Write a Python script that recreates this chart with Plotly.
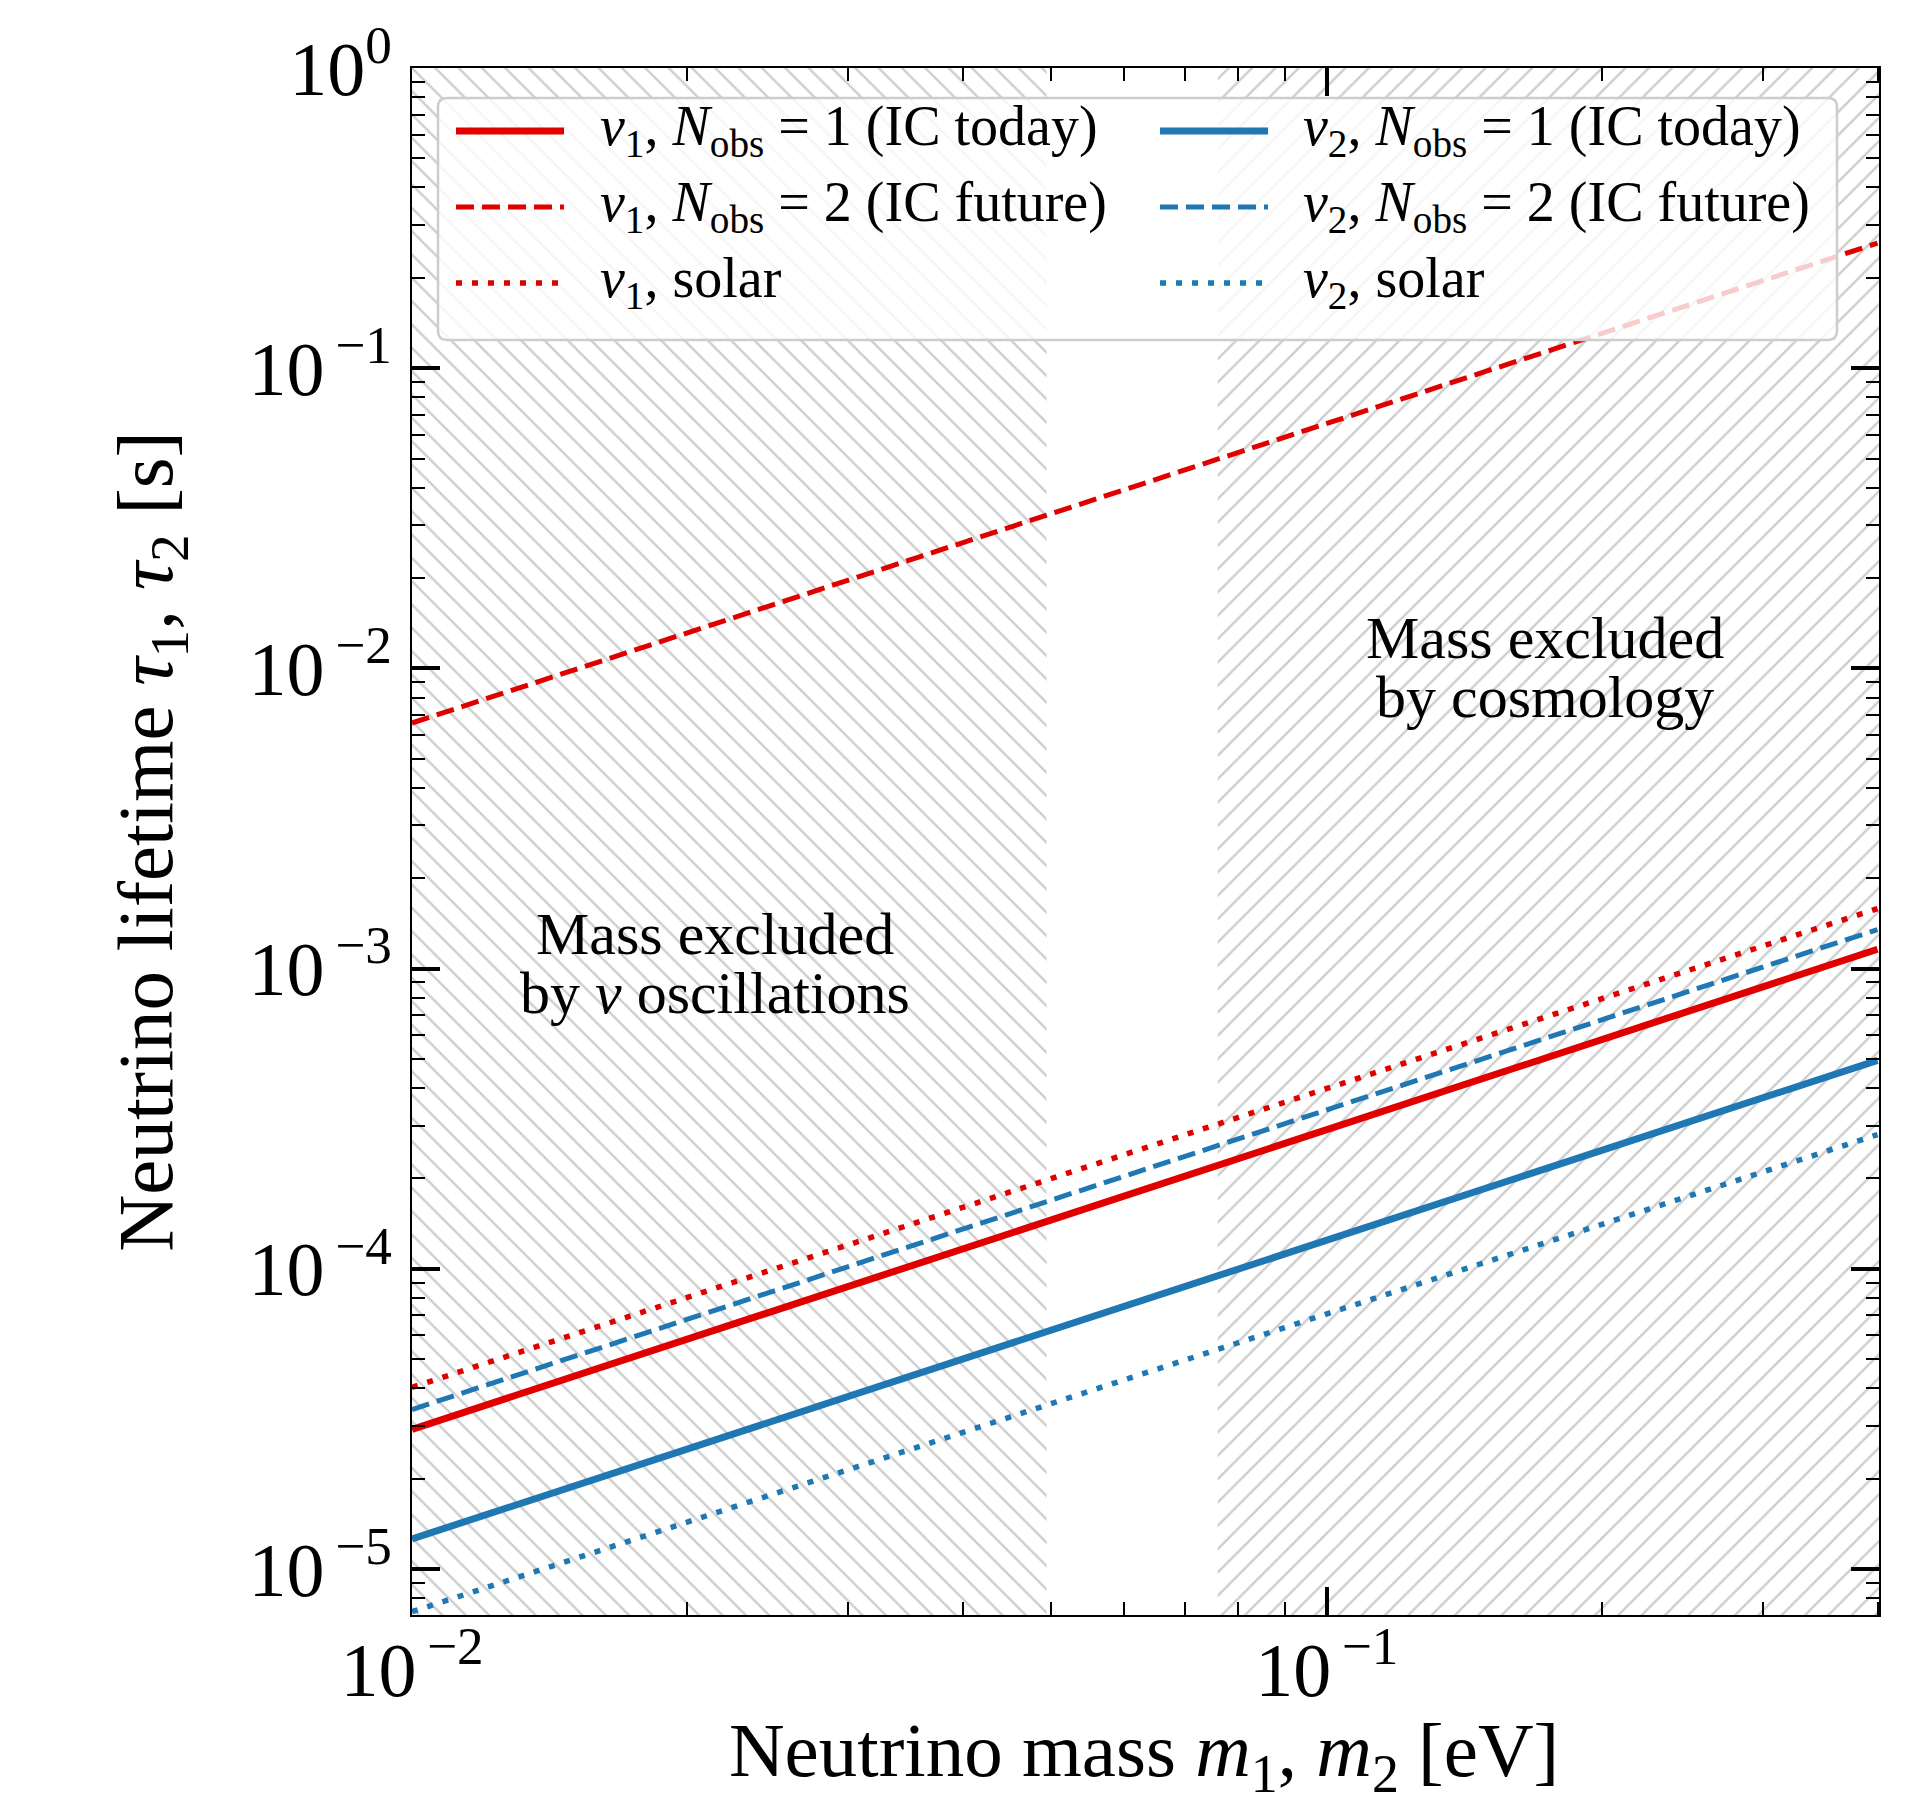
import numpy as np
import plotly.graph_objects as go

# ---------------- data ----------------
mass_ends = [0.01, 0.4]                      # eV
nu1_ic_today = [2.92e-5, 1.16e-3]           # s
nu1_ic_future = [6.58e-3, 0.261]
nu1_solar = [4.03e-5, 1.585e-3]
nu2_ic_today = [1.26e-5, 4.95e-4]
nu2_ic_future = [3.40e-5, 1.35e-3]
nu2_solar = [7.21e-6, 2.80e-4]

osc_excluded_mass = [0.01, 0.0494]
cosmo_excluded_mass = [0.076, 0.41]

x_tickvals = [1e-2, 1e-1]
x_ticktext = ["10<sup>\u2009−2</sup>", "10<sup>\u2009−1</sup>"]
y_tickvals = [1e-5, 1e-4, 1e-3, 1e-2, 1e-1, 1e0]
y_ticktext = ["10<sup>\u2009−5</sup>", "10<sup>\u2009−4</sup>", "10<sup>\u2009−3</sup>",
              "10<sup>\u2009−2</sup>", "10<sup>\u2009−1</sup>", "10<sup>0</sup>"]

x_title = "Neutrino mass <i>m</i><sub>1</sub>, <i>m</i><sub>2</sub> [eV]"
y_title = "Neutrino lifetime <i>τ</i><sub>1</sub>, <i>τ</i><sub>2</sub> [s]"

legend_labels = [
    "<i>ν</i><sub>1</sub>, <i>N</i><sub>obs</sub> = 1 (IC today)",
    "<i>ν</i><sub>1</sub>, <i>N</i><sub>obs</sub> = 2 (IC future)",
    "<i>ν</i><sub>1</sub>, solar",
    "<i>ν</i><sub>2</sub>, <i>N</i><sub>obs</sub> = 1 (IC today)",
    "<i>ν</i><sub>2</sub>, <i>N</i><sub>obs</sub> = 2 (IC future)",
    "<i>ν</i><sub>2</sub>, solar",
]

# ---------------- styling ----------------
W, H = 1924, 1803
ML, MR, MT, MB = 412, 45, 68, 188
SERIF = "Liberation Serif"
RED = "#e00000"
BLUE = "#1f77b4"
HATCH = "#9a9a9a"
X_RANGE = [-2, np.log10(0.4015)]
Y_RANGE = [-5.153, 0]
DASH = "18px,8px"
DOT = "6px,10px"

PW, PH = W - ML - MR, H - MT - MB


def px2paper(px, py):
    return (px - ML) / PW, (H - MB - py) / PH


fig = go.Figure()

# hatched exclusion regions
for xs, shape in [(osc_excluded_mass, "\\"), (cosmo_excluded_mass, "/")]:
    fig.add_trace(go.Scatter(
        x=[xs[0], xs[1], xs[1], xs[0], xs[0]],
        y=[1e-7, 1e-7, 10, 10, 1e-7],
        mode="lines", fill="toself", line=dict(width=0),
        fillcolor="rgba(255,255,255,0)",
        fillpattern=dict(shape=shape, fgcolor=HATCH, size=16.5, solidity=0.14,
                         bgcolor="rgba(255,255,255,0)"),
        showlegend=False, hoverinfo="skip"))

series = [
    (nu1_ic_future, RED, DASH, 5.0),
    (nu1_solar, RED, DOT, 5.5),
    (nu2_ic_future, BLUE, DASH, 5.0),
    (nu2_solar, BLUE, DOT, 5.5),
    (nu2_ic_today, BLUE, "solid", 7.0),
    (nu1_ic_today, RED, "solid", 7.0),
]
for ys, col, dash, lw in series:
    fig.add_trace(go.Scatter(x=mass_ends, y=ys, mode="lines",
                             line=dict(color=col, width=lw, dash=dash),
                             showlegend=False))

# ---------------- custom legend ----------------
shapes = []
annotations = []
bx0, by0, bx1, by1, r = 438, 98, 1837, 340, 9


def P(x, y):
    a, b = px2paper(x, y)
    return f"{a:.6f},{b:.6f}"


path = (f"M{P(bx0 + r, by0)} L{P(bx1 - r, by0)} Q{P(bx1, by0)} {P(bx1, by0 + r)} "
        f"L{P(bx1, by1 - r)} Q{P(bx1, by1)} {P(bx1 - r, by1)} "
        f"L{P(bx0 + r, by1)} Q{P(bx0, by1)} {P(bx0, by1 - r)} "
        f"L{P(bx0, by0 + r)} Q{P(bx0, by0)} {P(bx0 + r, by0)} Z")
shapes.append(dict(type="path", path=path, xref="paper", yref="paper",
                   fillcolor="rgba(255,255,255,0.8)",
                   line=dict(color="rgba(205,205,205,1)", width=2.5), layer="above"))

row_y = [131, 207, 283]
col_sample_x = [(456, 564), (1160, 1268)]
col_text_x = [598, 1301]
leg_styles = [
    (RED, "solid", 7.0), (RED, DASH, 5.0), (RED, DOT, 5.5),
    (BLUE, "solid", 7.0), (BLUE, DASH, 5.0), (BLUE, DOT, 5.5),
]
for i, (lab, (col, dash, lw)) in enumerate(zip(legend_labels, leg_styles)):
    c, rr = divmod(i, 3)
    x0p, y0p = px2paper(col_sample_x[c][0], row_y[rr])
    x1p, _ = px2paper(col_sample_x[c][1], row_y[rr])
    shapes.append(dict(type="line", xref="paper", yref="paper", x0=x0p, x1=x1p,
                       y0=y0p, y1=y0p, line=dict(color=col, width=lw, dash=dash),
                       layer="above"))
    tx, ty = px2paper(col_text_x[c], row_y[rr] - 1)
    annotations.append(dict(text=lab, xref="paper", yref="paper", x=tx, y=ty,
                            xanchor="left", yanchor="middle", showarrow=False,
                            font=dict(family=SERIF, size=56, color="black")))

# region labels
for txt, cx, cy in [("Mass excluded", 715, 934), ("by <i>ν</i> oscillations", 715, 993),
                    ("Mass excluded", 1545, 638), ("by cosmology", 1545, 697)]:
    ax_, ay_ = px2paper(cx, cy)
    annotations.append(dict(text=txt, xref="paper", yref="paper", x=ax_, y=ay_,
                            xanchor="center", yanchor="middle", showarrow=False,
                            font=dict(family=SERIF, size=60, color="black")))

# x-axis title (placed as an annotation for exact vertical position)
xt_x, xt_y = px2paper(1144, 1756)
annotations.append(dict(text=x_title, xref="paper", yref="paper", x=xt_x, y=xt_y,
                        xanchor="center", yanchor="middle", showarrow=False,
                        font=dict(family=SERIF, size=77, color="black")))

minor_x = [k * 1e-2 for k in range(2, 10)] + [k * 1e-1 for k in range(2, 5)]
minor_y = [k * 10.0 ** e for e in range(-6, 0) for k in range(2, 10)]

axis_common = dict(type="log", showline=True, linecolor="black", linewidth=2,
                   mirror="allticks", ticks="inside", ticklen=28, tickwidth=3.5,
                   tickcolor="black", showgrid=False, zeroline=False,
                   automargin=False,
                   tickfont=dict(family=SERIF, size=76, color="black"))

fig.update_layout(
    width=W, height=H,
    margin=dict(l=ML, r=MR, t=MT, b=MB, pad=0),
    paper_bgcolor="white", plot_bgcolor="white",
    font=dict(family=SERIF, color="black"),
    showlegend=False,
    shapes=shapes, annotations=annotations,
    xaxis=dict(**axis_common, range=X_RANGE, tickmode="array",
               tickvals=x_tickvals, ticktext=x_ticktext, ticklabelstandoff=-12,
               minor=dict(ticks="inside", ticklen=13, tickwidth=2, tickcolor="black",
                          tickmode="array", tickvals=minor_x, showgrid=False)),
    yaxis=dict(**axis_common, range=Y_RANGE, tickmode="array",
               tickvals=y_tickvals, ticktext=y_ticktext, ticklabelstandoff=3,
               minor=dict(ticks="inside", ticklen=13, tickwidth=2, tickcolor="black",
                          tickmode="array", tickvals=minor_y, showgrid=False),
               title=dict(text=y_title,
                          font=dict(family=SERIF, size=79, color="black"), standoff=50)),
)

fig.write_html("out.html", config={"displayModeBar": False},
               post_script="document.body.style.margin='0';document.body.style.overflow='hidden';")
